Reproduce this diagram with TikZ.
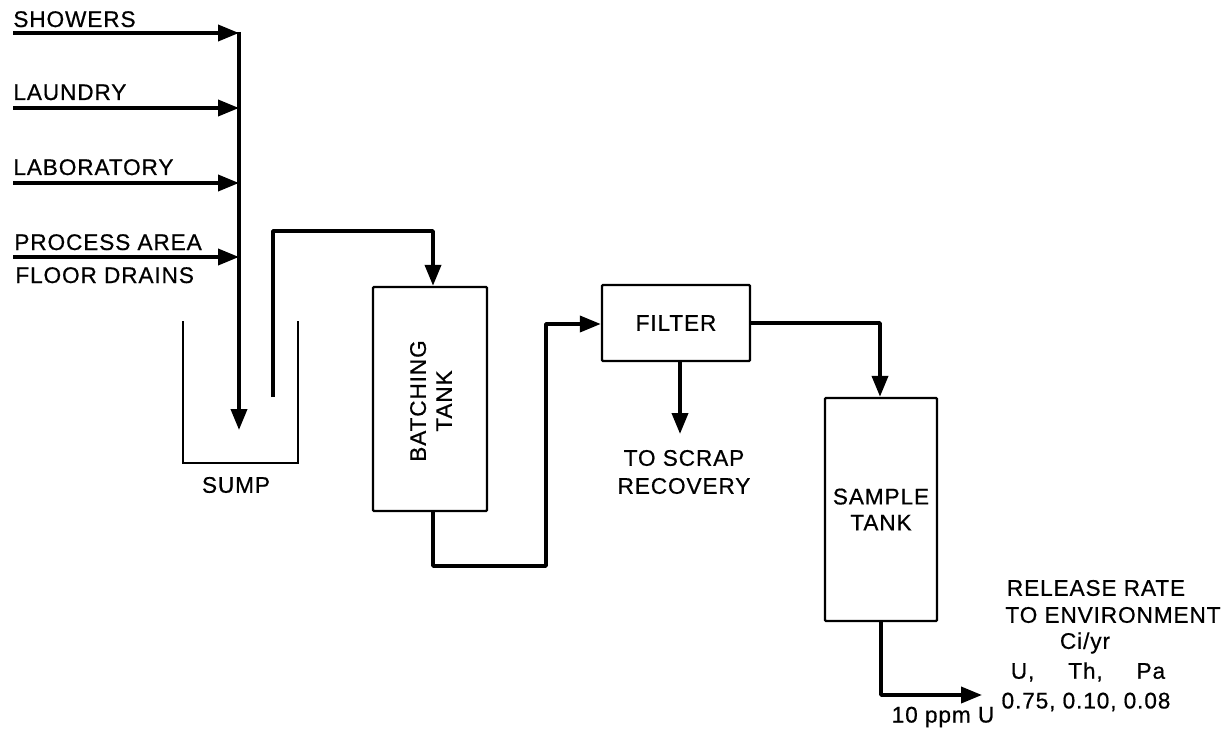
\documentclass[tikz,border=0pt]{standalone}
\usepackage{fontspec}
\setmainfont[LetterSpace=4,FakeBold=0.6]{Liberation Sans}
\usetikzlibrary{arrows.meta}
\begin{document}
\begin{tikzpicture}[x=0.5pt,y=-0.5pt,
  every node/.style={font=\fontsize{11.3}{13}\selectfont, inner sep=0pt},
  pipe/.style={line width=1.9pt, line join=round},
  flow/.style={pipe, -{Triangle[length=10.5pt,width=8pt]}},
  tank/.style={draw, line width=1.2pt, rounded corners=0.5pt},
  wall/.style={line width=1pt},
  lbl/.style={anchor=base west}]
\useasboundingbox (0,0) rectangle (1232,733);

% source labels
\node[lbl] (tshow) at (13,27) {SHOWERS};
\node[lbl] (tlaun) at (13,100) {LAUNDRY};
\node[lbl] (tlab)  at (13,175) {LABORATORY};
\node[lbl] (tproc) at (14,250) {PROCESS AREA};
\node[lbl] (tfloor) at (15,283) {FLOOR DRAINS};

% feeder coordinates
\coordinate (s0) at (13,33);   \coordinate (s1) at (239,33);
\coordinate (l0) at (13,108);  \coordinate (l1) at (239,108);
\coordinate (b0) at (13,183);  \coordinate (b1) at (239,183);
\coordinate (p0) at (13,257);  \coordinate (p1) at (239,257);
\coordinate (mtop) at (239,32);
\coordinate (mtip) at (239,430);

\draw[flow] (s0) -- (s1);
\draw[flow] (l0) -- (l1);
\draw[flow] (b0) -- (b1);
\draw[flow] (p0) -- (p1);
\draw[flow] (mtop) -- (mtip);

% sump
\draw[wall] (183,321) -- (183,463) -- (298,463) -- (298,321);
\node (tsump) at (236,485) {SUMP};

% tanks and filter
\node[tank, minimum width=57pt, minimum height=112pt] (batch) at (430,399) {};
\node[rotate=90, align=center] (tbatch) at (431,401) {BATCHING\\TANK};
\node[tank, minimum width=74pt, minimum height=38pt] (filter) at (676,323) {FILTER};
\node[tank, minimum width=56pt, minimum height=111.5pt, align=center] (sample) at (881,509.5) {SAMPLE\\TANK};

% sump -> batching tank
\coordinate (suction) at (273,397);
\draw[flow] (suction) -- (273,231) -- (433,231) -- (batch.north -| 433,0);

% batching tank -> filter
\coordinate (bout) at (433,511);
\draw[flow] (bout) -- (433,566) -- (546,566) -- (546,324) -- (filter.west |- 0,324);

% filter -> scrap recovery
\coordinate (fdown) at (680,361);
\coordinate (fscrap) at (680,434);
\draw[flow] (fdown) -- (fscrap);
\node[align=center] (tscrap) at (684,472) {TO SCRAP\\[1pt]RECOVERY};

% filter -> sample tank
\coordinate (fout) at (750,323);
\draw[flow] (fout) -- (880,323) -- (sample.north -| 880,0);

% sample tank -> environment
\coordinate (sout) at (881,621);
\coordinate (env) at (982,695);
\draw[flow] (sout) -- (881,695) -- (env);
\node (tppm) at (943,717) {10 ppm U};

% release rate text
\node (r1) at (1096,588) {RELEASE RATE};
\node (r2) at (1113,615) {TO ENVIRONMENT};
\node (r3) at (1085,643) {Ci/yr};
\node (r4) at (1088,672) {U,\hspace{1.5em}Th,\hspace{1.5em}Pa};
\node (r5) at (1086,702) {0.75, 0.10, 0.08};
\end{tikzpicture}
\end{document}
